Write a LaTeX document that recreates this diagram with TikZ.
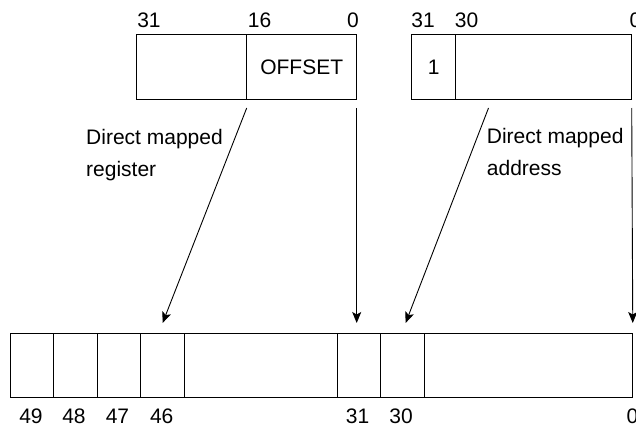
\documentclass[tikz,border=0pt]{standalone}
\usepackage{fontspec}
\setmainfont{Liberation Sans}
\usetikzlibrary{arrows.meta,positioning}
\def\cellw{43.6}
\def\cellh{64}
\tikzset{
  field/.style={draw, line width=1pt, minimum height=\cellh pt, inner sep=0pt, outer sep=0pt},
  bitno/.style={inner sep=0pt},
  note/.style={align=left, inner sep=0pt, anchor=north west},
  link/.style={-{Stealth[length=11pt, width=9pt, inset=2.5pt]}, line width=0.9pt},
}
\newcommand{\drawbitnos}{
  \foreach \name/\x/\y/\txt in {tl31/149/20/31, tl16/259.5/20/16, tl0/353/20/0,
      tr31/423/20/31, tr30/466.5/20/30, tr0/635.5/20/0,
      b49/31/416.5/49, b48/74/416.5/48, b47/117.5/416.5/47, b46/161.7/416.5/46,
      b31/357.5/416.5/31, b30/401/416.5/30, b0/632.5/416.5/0} {
    \node[bitno] (\name) at (\x, \y) {\txt};
  }
}

\begin{document}
\begin{tikzpicture}[x=1pt, y=-1pt, every node/.style={font=\fontsize{21}{32}\selectfont}]
    \useasboundingbox (0,0) rectangle (636,428);
    \drawbitnos{}

    % upper words
    \node[field, minimum width=110pt, anchor=north west] (hi) at (136.7,35) {};
    \node[field, minimum width=110pt, right=0pt of hi] (off) {OFFSET};
    \node[field, minimum width=44pt, anchor=north west] (flag) at (411.7,35) {1};
    \node[field, minimum width=176pt, right=0pt of flag] (addr) {};

    % register
    \node[field, minimum width=\cellw pt, anchor=north west] (c49) at (10,333) {};
    \foreach \b in {48,47,46} {
      \pgfmathtruncatemacro\prev{\b+1}
      \node[field, minimum width=\cellw pt, right=0pt of c\prev] (c\b) {};
    }
    \node[field, minimum width=152.8pt, right=0pt of c46] (mid) {};
    \node[field, minimum width=\cellw pt, right=0pt of mid] (c31) {};
    \node[field, minimum width=\cellw pt, right=0pt of c31] (c30) {};
    \node[field, minimum width=208.4pt, right=0pt of c30] (low) {};

    \node[note] (regnote) at (86,129) {Direct mapped\\register};
    \node[note] (addrnote) at (486.7,128) {Direct mapped\\address};

    \coordinate (dmstart) at (488.5,108);
    \draw[link] ([yshift=-9pt]off.south west) -- ([yshift=10pt]c46.north);
    \draw[link, shorten >=10pt] ([yshift=-9pt]off.south east) -- (off.south east |- c31.north);
    \draw[link] (dmstart) -- ([shift={(3pt,10pt)}]c30.north);
    \draw[link, shorten >=10pt] ([yshift=-9pt]addr.south east) -- (low.north east);
\end{tikzpicture}
\end{document}
